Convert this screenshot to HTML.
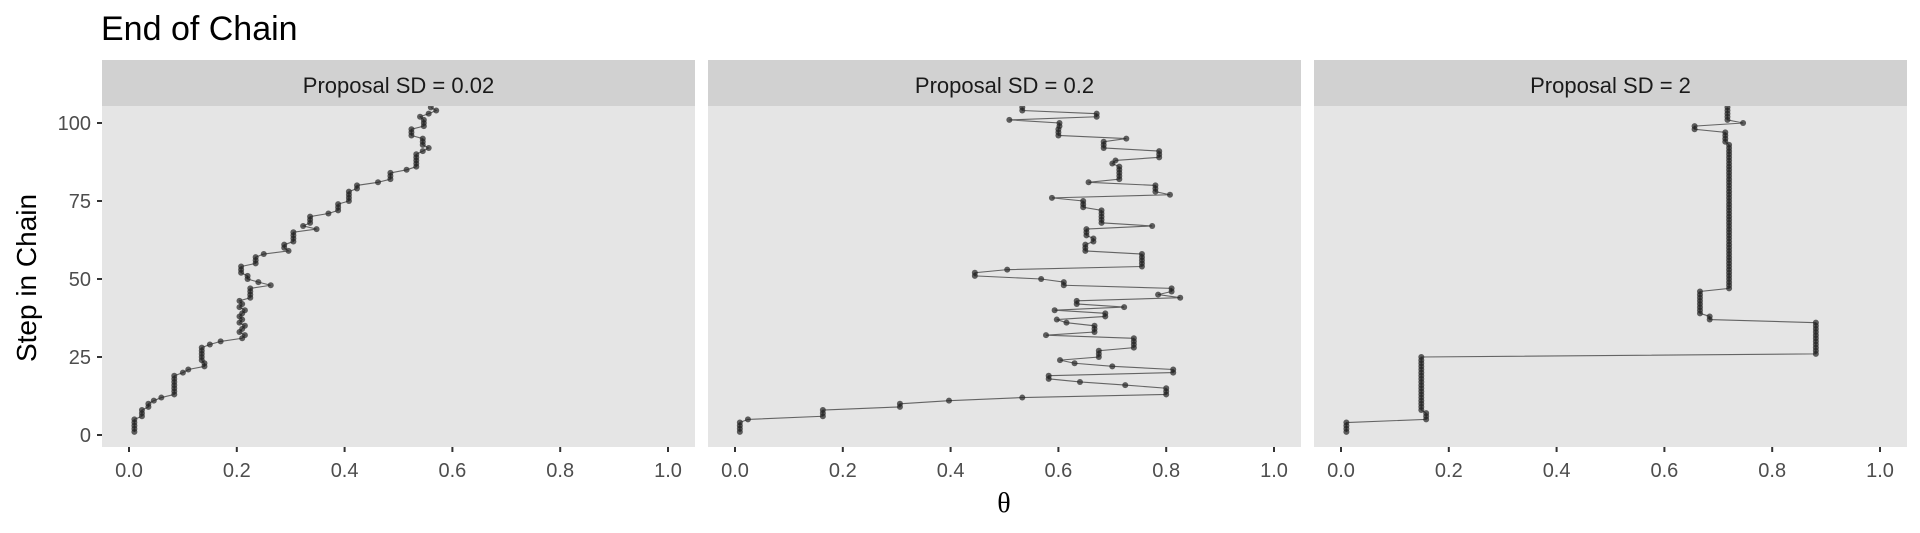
<!DOCTYPE html>
<html><head><meta charset="utf-8"><style>
html,body{margin:0;padding:0;background:#fff;}
svg text{font-family:"Liberation Sans",sans-serif;}
</style></head><body>
<svg id="chart" width="1920" height="528" xmlns="http://www.w3.org/2000/svg">
<text x="101" y="40" font-size="34" fill="#000">End of Chain</text>
<text transform="translate(36,278) rotate(-90)" text-anchor="middle" font-size="28" fill="#000">Step in Chain</text>
<text x="1004" y="512" text-anchor="middle" font-size="28" fill="#000" style="font-family:'Liberation Serif',serif">θ</text>
<g id="panels"></g>
</svg>
<script>
const panelTitles = ["Proposal SD = 0.02","Proposal SD = 0.2","Proposal SD = 2"];
const xTicks = [0,0.2,0.4,0.6,0.8,1.0];
const xTickLabels = ["0.0","0.2","0.4","0.6","0.8","1.0"];
const yTicks = [0,25,50,75,100];
const chainSD002 = [0.01,0.01,0.01,0.01,0.01,0.024,0.024,0.024,0.036,0.036,0.046,0.06,0.084,0.084,0.084,0.084,0.084,0.084,0.084,0.10,0.11,0.14,0.14,0.135,0.135,0.135,0.135,0.135,0.15,0.17,0.21,0.215,0.205,0.21,0.215,0.205,0.21,0.205,0.21,0.215,0.205,0.21,0.205,0.225,0.225,0.225,0.225,0.263,0.24,0.22,0.22,0.208,0.208,0.208,0.235,0.235,0.235,0.25,0.296,0.288,0.288,0.305,0.305,0.305,0.305,0.348,0.323,0.336,0.336,0.336,0.37,0.388,0.388,0.388,0.408,0.408,0.408,0.408,0.423,0.423,0.462,0.485,0.485,0.485,0.515,0.533,0.533,0.533,0.533,0.533,0.545,0.556,0.545,0.545,0.545,0.524,0.524,0.524,0.547,0.547,0.547,0.54,0.556,0.57,0.56];
const chainSD02 = [0.009,0.009,0.009,0.009,0.024,0.163,0.163,0.163,0.306,0.306,0.397,0.533,0.80,0.80,0.80,0.724,0.64,0.582,0.582,0.813,0.813,0.70,0.63,0.603,0.675,0.675,0.675,0.74,0.74,0.74,0.74,0.577,0.667,0.667,0.667,0.615,0.597,0.687,0.687,0.593,0.722,0.634,0.634,0.826,0.785,0.81,0.81,0.61,0.61,0.568,0.445,0.445,0.505,0.755,0.755,0.755,0.755,0.755,0.65,0.65,0.65,0.665,0.665,0.652,0.652,0.652,0.774,0.68,0.68,0.68,0.68,0.68,0.646,0.646,0.646,0.588,0.807,0.78,0.78,0.78,0.656,0.713,0.713,0.713,0.713,0.713,0.70,0.706,0.787,0.787,0.787,0.684,0.684,0.684,0.726,0.60,0.60,0.60,0.602,0.602,0.509,0.671,0.671,0.533,0.533];
const chainSD2 = [0.01,0.01,0.01,0.01,0.158,0.158,0.158,0.149,0.149,0.149,0.149,0.149,0.149,0.149,0.149,0.149,0.149,0.149,0.149,0.149,0.149,0.149,0.149,0.149,0.149,0.881,0.881,0.881,0.881,0.881,0.881,0.881,0.881,0.881,0.881,0.881,0.684,0.684,0.666,0.666,0.666,0.666,0.666,0.666,0.666,0.666,0.72,0.72,0.72,0.72,0.72,0.72,0.72,0.72,0.72,0.72,0.72,0.72,0.72,0.72,0.72,0.72,0.72,0.72,0.72,0.72,0.72,0.72,0.72,0.72,0.72,0.72,0.72,0.72,0.72,0.72,0.72,0.72,0.72,0.72,0.72,0.72,0.72,0.72,0.72,0.72,0.72,0.72,0.72,0.72,0.72,0.72,0.72,0.713,0.713,0.713,0.713,0.656,0.656,0.746,0.717,0.717,0.717,0.717,0.717];
const chains = [chainSD002, chainSD02, chainSD2];

const NS = "http://www.w3.org/2000/svg";
const root = document.getElementById('panels');
const PW = 593, PT = 106, PB = 447, ST = 60;
function px(left, v){ return left + 27 + v * 539; }
function py(s){ return 435 - s * 3.12; }
function mk(tag, attrs, parent){ const e = document.createElementNS(NS, tag); for (const k in attrs) e.setAttribute(k, attrs[k]); parent.appendChild(e); return e; }

const defs = mk('defs', {}, document.getElementById('chart'));
chains.forEach((data, i) => {
  const left = 102 + i * 606;
  const g = mk('g', {}, root);
  
  
  const cp = mk('clipPath', {id: 'clip' + i}, defs);
  mk('rect', {x: left, y: PT, width: PW, height: PB - PT}, cp);
  const strip = mk('rect', {x: left, y: ST, width: PW, height: PT - ST, fill: '#d1d1d1'}, g);
  
  
  const st = mk('text', {x: left + PW/2, y: 93, 'text-anchor': 'middle', 'font-size': 22, fill: '#1a1a1a'}, g);
  st.textContent = panelTitles[i];
  
  
  const bg = mk('rect', {x: left, y: PT, width: PW, height: PB - PT, fill: '#e5e5e5'}, g);
  
  
  xTicks.forEach((t, j) => {
    const x = px(left, t);
    const tk = mk('line', {x1: x, x2: x, y1: PB, y2: PB + 5, stroke: '#333', 'stroke-width': 2}, g);
    
    
    const tl = mk('text', {x: x, y: 477, 'text-anchor': 'middle', 'font-size': 20, fill: '#4d4d4d'}, g);
    tl.textContent = xTickLabels[j];
    
    
  });
  const pts = data.map((v, k) => [px(left, v), py(k + 1)]);
  const dg = mk('g', {'clip-path': 'url(#clip' + i + ')'}, g);
  const line = mk('polyline', {points: pts.map(p => p.join(',')).join(' '), fill: 'none', stroke: '#444', 'stroke-opacity': 0.8, 'stroke-width': 1.1}, dg);
  
  
  pts.forEach(p => {
    const c = mk('circle', {cx: p[0], cy: p[1], r: 3, fill: '#222', 'fill-opacity': 0.7}, dg);
    
    
  });
});
const yg = mk('g', {}, root);


yTicks.forEach(t => {
  const y = py(t);
  const tk = mk('line', {x1: 97, x2: 102, y1: y, y2: y, stroke: '#333', 'stroke-width': 2}, yg);
  
  
  const tl = mk('text', {x: 91, y: y + 7, 'text-anchor': 'end', 'font-size': 20, fill: '#4d4d4d'}, yg);
  tl.textContent = String(t);
  
  
});
</script>
</body></html>
